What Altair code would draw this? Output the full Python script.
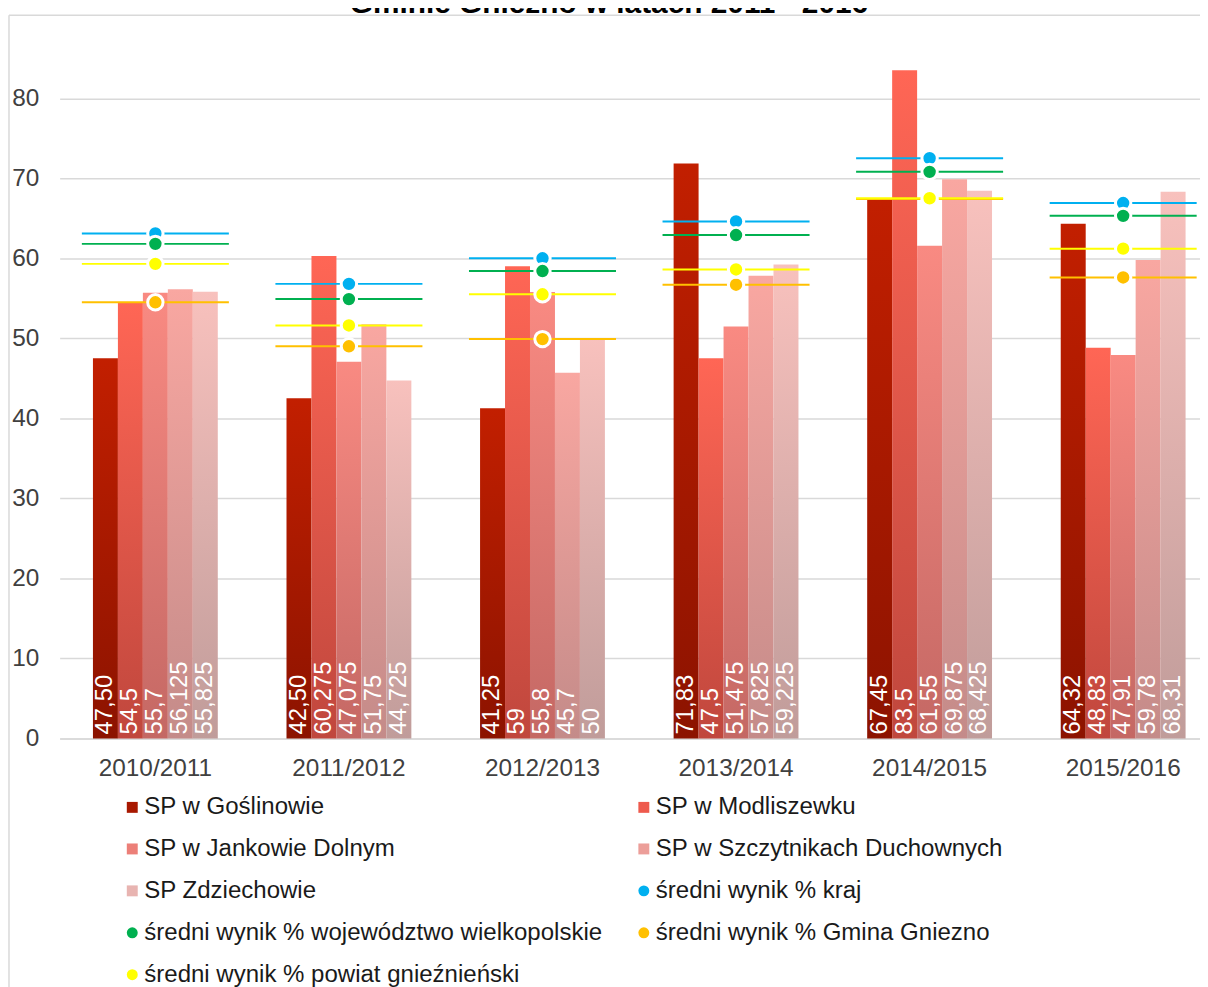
import altair as alt
import pandas as pd

# ---------------- data ----------------
years = ["2010/2011", "2011/2012", "2012/2013", "2013/2014", "2014/2015", "2015/2016"]

schools = [
    "SP w Goślinowie",
    "SP w Modliszewku",
    "SP w Jankowie Dolnym",
    "SP w Szczytnikach Duchownych",
    "SP Zdziechowie",
]

goslinowo = [47.50, 42.50, 41.25, 71.83, 67.45, 64.32]
modliszewko = [54.5, 60.275, 59.0, 47.5, 83.5, 48.83]
jankowo = [55.7, 47.075, 55.8, 51.475, 61.55, 47.91]
szczytniki = [56.125, 51.75, 45.7, 57.825, 69.875, 59.78]
zdziechowa = [55.825, 44.725, 50.0, 59.225, 68.425, 68.31]

goslinowo_lbl = ["47,50", "42,50", "41,25", "71,83", "67,45", "64,32"]
modliszewko_lbl = ["54,5", "60,275", "59", "47,5", "83,5", "48,83"]
jankowo_lbl = ["55,7", "47,075", "55,8", "51,475", "61,55", "47,91"]
szczytniki_lbl = ["56,125", "51,75", "45,7", "57,825", "69,875", "59,78"]
zdziechowa_lbl = ["55,825", "44,725", "50", "59,225", "68,425", "68,31"]

avg_names = [
    "średni wynik % kraj",
    "średni wynik % województwo wielkopolskie",
    "średni wynik % Gmina Gniezno",
    "średni wynik % powiat gnieźnieński",
]
kraj = [63.1, 56.8, 60.0, 64.6, 72.5, 66.9]
wojewodztwo = [61.8, 54.9, 58.4, 62.9, 70.8, 65.3]
gmina = [54.5, 49.0, 49.9, 56.7, 67.4, 57.6]
powiat = [59.3, 51.6, 55.5, 58.6, 67.5, 61.2]

title_text = "Gminie Gniezno w latach 2011 - 2016"

# ---------------- styles ----------------
FONT = "Liberation Sans"
bar_tops = ["#C21F00", "#FF6655", "#F98A82", "#F9A7A1", "#F8C1BD"]
bar_bottoms = ["#8C1300", "#C0473D", "#C46864", "#C48B89", "#C09C9A"]
legend_bar_colors = ["#A81800", "#EE5A4D", "#EC7F78", "#EC9E99", "#E8B4B1"]
avg_colors = ["#00B0F0", "#00B050", "#FFC000", "#FFFF00"]
grid_col = "#D9D9D9"

# ---------------- tables ----------------
rows = []
for s, vals, labs in zip(
    schools,
    [goslinowo, modliszewko, jankowo, szczytniki, zdziechowa],
    [goslinowo_lbl, modliszewko_lbl, jankowo_lbl, szczytniki_lbl, zdziechowa_lbl],
):
    for yr, v, lab in zip(years, vals, labs):
        rows.append({"rok": yr, "szkola": s, "wynik": v, "etykieta": lab})
bars_df = pd.DataFrame(rows)

arows = []
for n, vals in zip(avg_names, [kraj, wojewodztwo, gmina, powiat]):
    for yr, v in zip(years, vals):
        arows.append({"rok": yr, "seria": n, "wynik": v})
avg_df = pd.DataFrame(arows)

# legend: Vega fills the 2 columns top-to-bottom, so order entries so that
# the rows read like the original (row-major) legend
all_names = schools + avg_names
color_of = dict(zip(all_names, legend_bar_colors + avg_colors))
shape_of = dict(zip(all_names, ["square"] * 5 + ["circle"] * 4))
leg_order = all_names[0::2] + all_names[1::2]
legend_df = pd.DataFrame({"seria": leg_order})
dummy = pd.DataFrame({"a": [0]})

# ---------------- encodings ----------------
x_enc = alt.X(
    "rok:N",
    sort=years,
    scale=alt.Scale(domain=years, paddingInner=0.355, paddingOuter=0.172),
    axis=alt.Axis(
        title=None, labelAngle=0, labelFontSize=24.5, labelFont=FONT,
        labelColor="#404040", labelPadding=18, ticks=False,
        domainColor=grid_col, domainWidth=1.5, grid=False,
    ),
)

y_axis = alt.Axis(
    title=None, values=list(range(0, 90, 10)), labelFontSize=24.5, labelFont=FONT,
    labelColor="#404040", labelPadding=21, ticks=False, domain=False,
    gridColor=grid_col, gridWidth=1.5,
)
y_scale = alt.Scale(domain=[0, 90], nice=False, zero=True)
y_enc = alt.Y("wynik:Q", scale=y_scale, axis=y_axis)

xoff = alt.XOffset(
    "szkola:N", sort=schools,
    scale=alt.Scale(domain=schools, paddingInner=0, paddingOuter=0),
)

layers = []

# frame lines
layers.append(
    alt.Chart(dummy).mark_rule(color=grid_col, strokeWidth=1.5).encode(
        x=alt.value(-51), y=alt.value(-3), y2=alt.value(985)
    )
)
layers.append(
    alt.Chart(dummy).mark_rule(color=grid_col, strokeWidth=1.5).encode(
        x=alt.value(-51), x2=alt.value(1170), y=alt.value(-3)
    )
)

# bars with vertical gradients
for s, top, bot in zip(schools, bar_tops, bar_bottoms):
    grad = alt.Gradient(
        gradient="linear",
        stops=[alt.GradientStop(color=top, offset=0), alt.GradientStop(color=bot, offset=1)],
        x1=0, x2=0, y1=0, y2=1,
    )
    layers.append(
        alt.Chart(bars_df)
        .transform_filter(alt.datum.szkola == s)
        .mark_bar(fill=grad)
        .encode(x=x_enc, y=y_enc, xOffset=xoff)
    )

# value labels inside bars
layers.append(
    alt.Chart(bars_df)
    .transform_calculate(zero="0")
    .mark_text(angle=270, align="left", baseline="middle", dx=4,
               color="white", fontSize=24, font=FONT)
    .encode(
        x=x_enc,
        xOffset=xoff,
        y=alt.Y("zero:Q", scale=y_scale, axis=y_axis),
        text="etykieta:N",
    )
)

# average lines + markers
for n, col in zip(avg_names, avg_colors):
    layers.append(
        alt.Chart(avg_df)
        .transform_filter(alt.datum.seria == n)
        .mark_tick(size=148, thickness=2, color=col, opacity=1)
        .encode(x=x_enc, y=y_enc)
    )
    layers.append(
        alt.Chart(avg_df)
        .transform_filter(alt.datum.seria == n)
        .mark_circle(size=240, fill=col, stroke="white", strokeWidth=3, opacity=1)
        .encode(x=x_enc, y=y_enc)
    )

# legend carrier (no marks drawn)
leg = alt.Legend(
    orient="none", legendX=61, legendY=782, columns=2, title=None,
    labelFont=FONT, labelFontSize=24.2, labelColor="#1a1a1a", labelLimit=700,
    symbolSize=121, symbolStrokeWidth=0, symbolOpacity=1,
    rowPadding=17.2, columnPadding=29, labelOffset=0, padding=0,
)
layers.append(
    alt.Chart(legend_df)
    .transform_filter("false")
    .mark_point(filled=True, opacity=1)
    .encode(
        color=alt.Color("seria:N", sort=leg_order,
                        scale=alt.Scale(domain=leg_order,
                                        range=[color_of[n] for n in leg_order]),
                        legend=leg),
        shape=alt.Shape("seria:N", sort=leg_order,
                        scale=alt.Scale(domain=leg_order,
                                        range=[shape_of[n] for n in leg_order]),
                        legend=leg),
    )
)

# title (partially cut at top, as in the reference)
layers.append(
    alt.Chart(dummy).mark_text(
        text=title_text, font=FONT, fontSize=30, fontWeight="bold",
        color="#000000", align="center", baseline="alphabetic",
    ).encode(x=alt.value(553), y=alt.value(-5))
)

chart = (
    alt.layer(*layers)
    .properties(
        width=1167, height=725,
        autosize=alt.AutoSizeParams(type="none"),
        padding={"left": 52, "top": 7, "right": -19, "bottom": 247},
        background="white",
    )
    .configure_view(strokeWidth=0)
)

chart.save("out.html", embed_options={"renderer": "svg", "actions": False})
